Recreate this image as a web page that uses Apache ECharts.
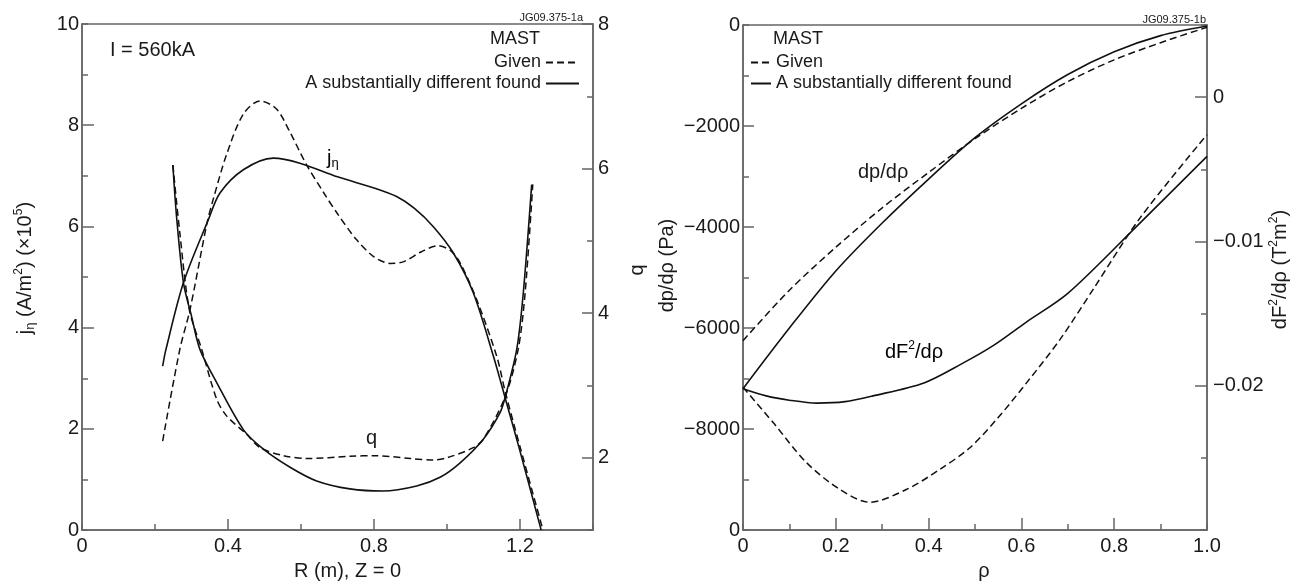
<!DOCTYPE html>
<html>
<head>
<meta charset="utf-8">
<script src="https://cdn.jsdelivr.net/npm/echarts@6/dist/echarts.min.js"></script>
<style>
html, body {margin: 0; padding: 0; background: #fff;}
#chart {width: 1299px; height: 586px;}
</style>
</head>
<body>
<div id="chart"></div>
<script>
/// left panel: current density j_eta and safety factor q along R (Z = 0)

var jGivenR   = [0.221, 0.268, 0.296, 0.342, 0.360, 0.396, 0.442, 0.488, 0.533, 0.570, 0.615, 0.661, 0.700, 0.752, 0.800, 0.845, 0.880, 0.930, 0.975, 1.010, 1.036, 1.081, 1.136, 1.160, 1.200, 1.263]
var jGivenVal = [1.76, 3.57, 4.36, 6.05, 6.55, 7.42, 8.22, 8.48, 8.32, 7.86, 7.22, 6.68, 6.25, 5.74, 5.40, 5.27, 5.30, 5.50, 5.62, 5.52, 5.28, 4.56, 3.44, 2.72, 1.65, 0]

var jFoundR   = [0.221, 0.230, 0.278, 0.346, 0.378, 0.442, 0.524, 0.597, 0.700, 0.800, 0.862, 0.910, 0.962, 1.017, 1.072, 1.127, 1.159, 1.200, 1.258]
var jFoundVal = [3.24, 3.57, 4.89, 6.13, 6.66, 7.12, 7.35, 7.25, 6.98, 6.76, 6.59, 6.36, 6.00, 5.48, 4.69, 3.44, 2.62, 1.56, 0]

var qGivenR   = [0.249, 0.268, 0.294, 0.328, 0.369, 0.396, 0.450, 0.488, 0.552, 0.616, 0.734, 0.803, 0.900, 0.962, 1.000, 1.072, 1.100, 1.159, 1.195, 1.214, 1.235]
var qGivenVal = [6.05, 5.11, 4.05, 3.50, 2.81, 2.58, 2.33, 2.14, 2.03, 1.99, 2.02, 2.03, 1.99, 1.97, 2.00, 2.14, 2.26, 2.84, 3.50, 4.28, 5.78]

var qFoundR   = [0.249, 0.259, 0.278, 0.300, 0.323, 0.369, 0.442, 0.497, 0.570, 0.643, 0.734, 0.825, 0.917, 0.981, 1.036, 1.100, 1.145, 1.159, 1.191, 1.209, 1.232]
var qFoundVal = [6.05, 5.34, 4.42, 3.96, 3.50, 3.04, 2.39, 2.12, 1.87, 1.68, 1.57, 1.54, 1.61, 1.73, 1.93, 2.26, 2.62, 2.83, 3.50, 4.28, 5.78]

/// right panel: dp/drho and dF^2/drho along rho

var dpRho      = [0, 0.1, 0.2, 0.3, 0.4, 0.5, 0.6, 0.7, 0.8, 0.9, 1.0]
var dpGiven    = [-6250, -5250, -4400, -3620, -2920, -2250, -1650, -1120, -690, -350, -45]
var dpFound    = [-7200, -6000, -4870, -3920, -3050, -2230, -1560, -980, -530, -210, -20]

var dfGivenRho = [0, 0.065, 0.137, 0.209, 0.273, 0.352, 0.424, 0.489, 0.550, 0.611, 0.683, 0.755, 0.855, 1.0]
var dfGiven    = [-0.0201, -0.02255, -0.02533, -0.02719, -0.02807, -0.02719, -0.0258, -0.02429, -0.0222, -0.0198, -0.0168, -0.0133, -0.0084, -0.0026]
var dfFoundRho = [0, 0.05, 0.1, 0.16, 0.22, 0.28, 0.39, 0.47, 0.54, 0.61, 0.70, 0.85, 1.0]
var dfFound    = [-0.0202, -0.0207, -0.0210, -0.0212, -0.0211, -0.0207, -0.0198, -0.0185, -0.0172, -0.0156, -0.0136, -0.0089, -0.0041]

/// tick labels
var rTicks        = [0, 0.4, 0.8, 1.2]
var jTicks        = [0, 2, 4, 6, 8, 10]
var qTicks        = [2, 4, 6, 8]
var rhoTicks      = [0, 0.2, 0.4, 0.6, 0.8, 1.0]
var rhoTickLabels = ['0', '0.2', '0.4', '0.6', '0.8', '1.0']
var dpTicks       = [-10000, -8000, -6000, -4000, -2000, 0]
var dpTickLabels  = ['0', '\u22128000', '\u22126000', '\u22124000', '\u22122000', '0']
var dfTicks       = [-0.02, -0.01, 0]
var dfTickLabels  = ['\u22120.02', '\u22120.01', '0']

var GIVEN = 'Given'
var FOUND = 'A substantially different found'

var font = "'Liberation Sans', Arial, Helvetica, sans-serif"
var ink = '#1a1a1a'
var frame = '#666'

function pairs (xs, ys) {
    return xs.map((x, i) => [x, ys[i]])
}

function lookup (values, labels) {
    return function (v) {
        var i = values.findIndex(t => Math.abs(t - v) < 1e-9)
        return i < 0 ? '' : labels[i]
    }
}

var rich = {
    n:   {fontSize: 20, fontFamily: font, color: ink, lineHeight: 24},
    sup: {fontSize: 12, fontFamily: font, color: ink, lineHeight: 12, verticalAlign: 'top'},
    sub: {fontSize: 13, fontFamily: font, color: ink, lineHeight: 13, verticalAlign: 'bottom'}
}

function baseAxis (grid, min, max, interval, position) {
    return {
        gridIndex: grid, type: 'value', min: min, max: max, interval: interval, position: position,
        axisLine: {show: true, onZero: false, lineStyle: {color: frame, width: 1.5}},
        axisTick: {show: true, inside: true, length: 6, lineStyle: {color: frame, width: 1.5}},
        splitLine: {show: false},
    }
}

function majorTicks (grid, min, max, position, ticks, len) {
    return {
        gridIndex: grid, type: 'value', min: min, max: max, position: position,
        axisLine: {show: false, onZero: false},
        axisLabel: {show: false},
        splitLine: {show: false},
        axisTick: {show: true, inside: true, length: len, customValues: ticks, lineStyle: {color: frame, width: 1.5}},
    }
}

function labels (values, formatter, margin) {
    return {customValues: values, formatter: formatter, margin: margin, fontSize: 20, fontFamily: font, color: ink}
}

// left panel axes
var xR = baseAxis(0, 0, 1.4, 0.2, 'bottom')
xR.axisLabel = labels(rTicks, v => String(v), 6)
xR.name = 'R (m), Z = 0'
xR.nameLocation = 'middle'
xR.nameGap = 27
xR.nameTextStyle = {fontSize: 20, fontFamily: font, color: ink, padding: [0, 0, 0, 20]}

var yJ = baseAxis(0, 0, 10, 1, 'left')
yJ.axisLabel = labels(jTicks, v => String(v), 3)
yJ.name = '{n|j}{sub|\u03b7}{n| (A/m}{sup|2}{n|) (\u00d710}{sup|5}{n|)}'
yJ.nameLocation = 'middle'
yJ.nameRotate = 90
yJ.nameGap = 45
yJ.nameTextStyle = {rich: rich, padding: [0, 0, 0, 18]}

var yQ = baseAxis(0, 1, 8, 1, 'right')
yQ.axisLabel = labels(qTicks, v => String(v), 5)
yQ.name = 'q'
yQ.nameLocation = 'middle'
yQ.nameRotate = 90
yQ.nameGap = 34
yQ.nameTextStyle = {fontSize: 20, fontFamily: font, color: ink, padding: [0, 0, 0, 14]}

// right panel axes
var xRho = baseAxis(1, 0, 1, 0.1, 'bottom')
xRho.axisLabel = labels(rhoTicks, lookup(rhoTicks, rhoTickLabels), 6)
xRho.name = '\u03c1'
xRho.nameLocation = 'middle'
xRho.nameGap = 28
xRho.nameTextStyle = {fontSize: 20, fontFamily: font, color: ink, padding: [0, 0, 0, 18]}

var yDp = baseAxis(1, -10000, 0, 1000, 'left')
yDp.axisLabel = labels(dpTicks, lookup(dpTicks, dpTickLabels), 3)
yDp.name = 'dp/d\u03c1 (Pa)'
yDp.nameLocation = 'middle'
yDp.nameRotate = 90
yDp.nameGap = 66
yDp.nameTextStyle = {fontSize: 20, fontFamily: font, color: ink, padding: [0, 0, 0, 24]}

var yDf = baseAxis(1, -0.03, 0.005, 0.005, 'right')
yDf.axisLabel = labels(dfTicks, lookup(dfTicks, dfTickLabels), 6)
yDf.name = '{n|dF}{sup|2}{n|/d\u03c1 (T}{sup|2}{n|m}{sup|2}{n|)}'
yDf.nameLocation = 'middle'
yDf.nameRotate = 90
yDf.nameGap = 61
yDf.nameTextStyle = {rich: rich, padding: [0, 0, 0, 16]}

var dashed = {color: '#111', width: 1.5, type: [7, 4]}
var solid = {color: '#111', width: 1.6, type: 'solid'}

function curve (name, x, y, data, style) {
    return {
        name: name, type: 'line', xAxisIndex: x, yAxisIndex: y, data: data,
        showSymbol: false, symbol: 'none', smooth: 0.3, silent: true,
        lineStyle: style, itemStyle: {color: '#111'}
    }
}

var legendText = {fontSize: 18, fontFamily: font, color: ink, lineHeight: 21}

option = {
    animation: false,
    backgroundColor: '#fff',
    grid: [
        {left: 82, top: 24, width: 511, height: 507, show: true, borderColor: frame, borderWidth: 1.5},
        {left: 743, top: 25, width: 464, height: 508, show: true, borderColor: frame, borderWidth: 1.5},
    ],
    xAxis: [
        xR,
        majorTicks(0, 0, 1.4, 'bottom', [0.4, 0.8, 1.2], 11),
        xRho,
        majorTicks(1, 0, 1, 'bottom', [0.2, 0.4, 0.6, 0.8], 12),
    ],
    yAxis: [
        yJ,
        majorTicks(0, 0, 10, 'left', [2, 4, 6, 8], 12),
        yQ,
        majorTicks(0, 1, 8, 'right', [2, 4, 6, 8], 11),
        yDp,
        majorTicks(1, -10000, 0, 'left', [-8000, -6000, -4000, -2000], 11),
        yDf,
        majorTicks(1, -0.03, 0.005, 'right', [-0.02, -0.01, 0], 12),
    ],
    legend: [
        {data: [GIVEN], right: 719, top: 52, align: 'right', padding: 0, itemWidth: 33, itemHeight: 14,
         selectedMode: false, textStyle: legendText, itemStyle: {opacity: 0}},
        {data: [FOUND], right: 719, top: 73, align: 'right', padding: 0, itemWidth: 33, itemHeight: 14,
         selectedMode: false, textStyle: legendText, itemStyle: {opacity: 0}},
        {data: [GIVEN, FOUND], left: 750, top: 52, orient: 'vertical', align: 'left', padding: 0, itemGap: 0,
         itemWidth: 20, itemHeight: 14, selectedMode: false, textStyle: legendText, itemStyle: {opacity: 0}},
    ],
    graphic: [
        {type: 'text', left: 110, top: 40, style: {text: 'I = 560kA', font: '20px ' + font, fill: ink}},
        {type: 'text', right: 716, top: 12, style: {text: 'JG09.375-1a', font: '11px ' + font, fill: ink}},
        {type: 'text', right: 759, top: 30, style: {text: 'MAST', font: '18px ' + font, fill: ink}},
        {type: 'text', right: 93, top: 14, style: {text: 'JG09.375-1b', font: '11px ' + font, fill: ink}},
        {type: 'text', left: 773, top: 30, style: {text: 'MAST', font: '18px ' + font, fill: ink}},
        {type: 'text', left: 327, top: 148, style: {text: '{n|j}{sub|\u03b7}', rich: rich}},
        {type: 'text', left: 366, top: 428, style: {text: 'q', font: '20px ' + font, fill: ink}},
        {type: 'text', left: 858, top: 162, style: {text: 'dp/d\u03c1', font: '20px ' + font, fill: ink}},
        {type: 'text', left: 885, top: 340, style: {text: '{n|dF}{sup|2}{n|/d\u03c1}', rich: rich}},
    ],
    series: [
        curve(GIVEN, 0, 0, pairs(jGivenR, jGivenVal), dashed),
        curve(FOUND, 0, 0, pairs(jFoundR, jFoundVal), solid),
        curve(GIVEN, 0, 2, pairs(qGivenR, qGivenVal), dashed),
        curve(FOUND, 0, 2, pairs(qFoundR, qFoundVal), solid),
        curve(GIVEN, 2, 4, pairs(dpRho, dpGiven), dashed),
        curve(FOUND, 2, 4, pairs(dpRho, dpFound), solid),
        curve(GIVEN, 2, 6, pairs(dfGivenRho, dfGiven), dashed),
        curve(FOUND, 2, 6, pairs(dfFoundRho, dfFound), solid),
    ]
};

var chart = echarts.init(document.getElementById('chart'));
chart.setOption(option);
</script>
</body>
</html>
